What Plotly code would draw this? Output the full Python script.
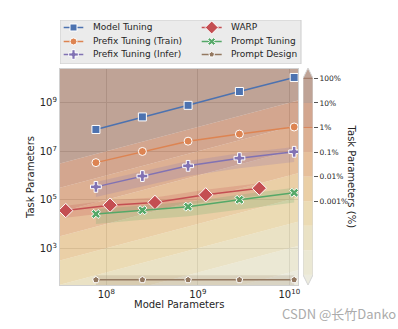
import plotly.graph_objects as go

# ---- data -------------------------------------------------------------
model_sizes = [7.7e7, 2.48e8, 7.83e8, 2.85e9, 1.13e10]
warp_sizes = [3.6e7, 1.1e8, 3.4e8, 1.22e9, 4.7e9]

model_tuning = [7.9e7, 2.6e8, 7.8e8, 2.9e9, 1.1e10]
prefix_train = [3.4e6, 9.8e6, 2.6e7, 5.1e7, 1.0e8]
prefix_infer = [3.4e5, 9.5e5, 2.5e6, 5.2e6, 9.5e6]
warp = [3.6e4, 6.0e4, 7.8e4, 1.6e5, 3.0e5]
prompt_tuning = [2.6e4, 3.7e4, 5.2e4, 1.0e5, 1.95e5]
prompt_design = [50, 50, 50, 50, 50]

# spread bands (low / high)
prefix_infer_lo = [1.3e5, 3.6e5, 9.5e5, 2.0e6, 3.6e6]
prefix_infer_hi = [5.4e5, 1.5e6, 4.0e6, 8.2e6, 1.5e7]
warp_lo = [1.8e4, 3.0e4, 3.9e4, 8.0e4, 1.5e5]
warp_hi = [5.7e4, 9.5e4, 1.25e5, 2.6e5, 4.8e5]
prompt_tuning_lo = [1.0e4, 1.5e4, 2.1e4, 4.0e4, 7.8e4]
prompt_tuning_hi = [4.1e4, 5.9e4, 8.3e4, 1.6e5, 3.1e5]
prompt_design_lo = [20, 20, 20, 20, 20]
prompt_design_hi = [78, 78, 78, 78, 78]

# task-parameter fraction levels for the background bands
ratio_edges = [1e-14, 1e-8, 1e-7, 1e-6, 1e-5, 1e-4, 1e-3, 1e-2, 1e-1, 1e6]
band_colors = [
    (228, 226, 208), (226, 222, 194), (225, 214, 172), (226, 204, 148),
    (225, 187, 128), (219, 164, 112), (206, 142, 101), (192, 128, 95),
    (164, 124, 105),
]
BAND_ALPHA = 0.7

y_ticks = [1e3, 1e5, 1e7, 1e9]
y_ticktext = ["10<sup>3</sup>", "10<sup>5</sup>", "10<sup>7</sup>", "10<sup>9</sup>"]
x_ticks = [1e8, 1e9, 1e10]
x_ticktext = ["10<sup>8</sup>", "10<sup>9</sup>", "10<sup>10</sup>"]
cbar_ticks = [100, 10, 1, 0.1, 0.01, 0.001]
cbar_ticktext = ["100%", "10%", "1%", "0.1%", "0.01%", "0.001%"]

FONT = "DejaVu Sans"
TXT = "#262626"


def rgba(c, a):
    return f"rgba({c[0]},{c[1]},{c[2]},{a})"


fig = go.Figure()

# ---- background: constant-fraction bands ------------------------------
xa, xb = 1e7, 3e10
for i, col in enumerate(band_colors):
    lo, hi = ratio_edges[i], ratio_edges[i + 1]
    fig.add_trace(go.Scatter(
        x=[xa, xb, xb, xa, xa],
        y=[xa * lo, xb * lo, xb * hi, xa * hi, xa * lo],
        mode="lines", fill="toself", fillcolor=rgba(col, BAND_ALPHA),
        line=dict(width=0), hoverinfo="skip",
    ))


# ---- spread bands -----------------------------------------------------
def add_band(xs, lo, hi, color):
    fig.add_trace(go.Scatter(
        x=list(xs) + list(xs)[::-1], y=list(hi) + list(lo)[::-1],
        mode="lines", fill="toself", fillcolor=color,
        line=dict(width=0), hoverinfo="skip",
    ))


add_band(model_sizes, prefix_infer_lo, prefix_infer_hi, "rgba(129,114,179,0.2)")
add_band(warp_sizes, warp_lo, warp_hi, "rgba(196,78,82,0.2)")
add_band(model_sizes, prompt_tuning_lo, prompt_tuning_hi, "rgba(85,168,104,0.2)")
add_band(model_sizes, prompt_design_lo, prompt_design_hi, "rgba(147,120,96,0.2)")

# ---- method lines -----------------------------------------------------
series = [
    ("Model Tuning", model_sizes, model_tuning, "#4c72b0", "square", 8),
    ("Prefix Tuning (Train)", model_sizes, prefix_train, "#dd8452", "circle", 8),
    ("Prefix Tuning (Infer)", model_sizes, prefix_infer, "#8172b3", "cross", 9),
    ("WARP", warp_sizes, warp, "#c44e52", "diamond", 11),
    ("Prompt Tuning", model_sizes, prompt_tuning, "#55a868", "x", 8),
    ("Prompt Design", model_sizes, prompt_design, "#937860", "pentagon", 7),
]
for name, xs, ys, color, sym, size in series:
    fig.add_trace(go.Scatter(
        x=xs, y=ys, name=name, mode="lines+markers",
        line=dict(color=color, width=1.5),
        marker=dict(symbol=sym, size=size, color=color,
                    line=dict(color="white", width=1)),
    ))

# ---- colour bar (drawn on its own small axes) -------------------------
cb_edges = [r * 100 for r in ratio_edges]
cb_lo, cb_hi = 1e-6, 100.0
tip_top, tip_bot = 10 ** 2.42, 10 ** -6.41


def cb_poly(xs, ys, col):
    fig.add_trace(go.Scatter(x=xs, y=ys, xaxis="x2", yaxis="y2",
                             mode="lines", fill="toself",
                             fillcolor=rgba(col, BAND_ALPHA),
                             line=dict(width=0), hoverinfo="skip"))


for i, col in enumerate(band_colors):
    lo = max(cb_edges[i], cb_lo)
    hi = min(cb_edges[i + 1], cb_hi)
    if i == 0:
        cb_poly([0, 1, 0.5, 0], [cb_lo, cb_lo, tip_bot, cb_lo], col)
    elif i == len(band_colors) - 1:
        cb_poly([0, 1, 1, 0.5, 0, 0], [lo, lo, cb_hi, tip_top, cb_hi, lo], col)
    else:
        cb_poly([0, 1, 1, 0, 0], [lo, lo, hi, hi, lo], col)

# level lines on the colour bar
for lvl, col in [(100, "rgba(150,105,85,0.8)"), (1, "rgba(215,130,85,0.9)")]:
    fig.add_trace(go.Scatter(x=[0, 1], y=[lvl, lvl], xaxis="x2", yaxis="y2",
                             mode="lines", line=dict(color=col, width=1),
                             hoverinfo="skip"))

# colour bar outline
fig.add_trace(go.Scatter(
    x=[0, 0, 0.5, 1, 1, 0.5, 0],
    y=[cb_lo, cb_hi, tip_top, cb_hi, cb_lo, tip_bot, cb_lo],
    xaxis="x2", yaxis="y2", mode="lines",
    line=dict(color="#d4d4d4", width=1), hoverinfo="skip"))

# ---- legend box (own axes, 1 unit = 1 px) ------------------------------
legend_cols = [(3.7, 13.5, 23.3, 31.0), (141.7, 151.7, 161.7, 168.7)]
legend_rows = [36.5, 22.5, 9.5]
legend_slots = [(0, 0), (0, 1), (0, 2), (1, 0), (1, 1), (1, 2)]
for (name, _, _, color, sym, size), (c, r) in zip(series, legend_slots):
    x0, xm, x1, xt = legend_cols[c]
    yy = legend_rows[r]
    fig.add_trace(go.Scatter(x=[x0, x1], y=[yy, yy], xaxis="x3", yaxis="y3",
                             mode="lines", line=dict(color=color, width=1.5),
                             hoverinfo="skip"))
    fig.add_trace(go.Scatter(x=[xm], y=[yy], xaxis="x3", yaxis="y3",
                             mode="markers", hoverinfo="skip",
                             marker=dict(symbol=sym, size=size - 1, color=color,
                                         line=dict(color="white", width=1))))
    fig.add_annotation(text=name, x=xt, y=yy, xref="x3", yref="y3",
                       xanchor="left", yanchor="middle", showarrow=False,
                       font=dict(size=9, color=TXT))

fig.add_shape(type="rect", xref="x3", yref="y3", x0=0, x1=241, y0=0, y1=44,
              fillcolor="#ebebeb", line=dict(color="#cccccc", width=1),
              layer="below")

# ---- layout -----------------------------------------------------------
fig.update_layout(
    width=398, height=329,
    margin=dict(l=60, r=20, t=18, b=44),
    paper_bgcolor="white", plot_bgcolor="white",
    font=dict(family=FONT, size=10, color=TXT),
    showlegend=False,
    xaxis=dict(
        type="log", domain=[0, 0.7484], range=[7.494, 10.095],
        tickvals=x_ticks, ticktext=x_ticktext, ticks="",
        showgrid=True, gridcolor="#c4c4c4", gridwidth=1,
        showline=True, mirror=True, linecolor="#d0d0d0", linewidth=1.25,
        zeroline=False, tickfont=dict(size=10, color=TXT),
    ),
    yaxis=dict(
        type="log", domain=[0, 0.80899], range=[1.487, 10.39],
        tickvals=y_ticks, ticktext=y_ticktext, ticks="",
        showgrid=True, gridcolor="#c4c4c4", gridwidth=1,
        showline=True, mirror=True, linecolor="#d0d0d0", linewidth=1.25,
        zeroline=False, tickfont=dict(size=10, color=TXT),
    ),
    xaxis2=dict(domain=[0.7642, 0.7956], range=[0, 1], visible=False,
                anchor="y2", fixedrange=True),
    yaxis2=dict(
        domain=[0, 0.81273], type="log", range=[-6.41, 2.42], anchor="x2",
        side="right", tickvals=cbar_ticks, ticktext=cbar_ticktext,
        ticks="outside", ticklen=4, tickwidth=1, tickcolor="#555555",
        showgrid=False, zeroline=False, showline=False,
        tickfont=dict(size=7.5, color=TXT),
    ),
    xaxis3=dict(domain=[0, 0.7610], range=[0, 242], visible=False,
                anchor="y3", fixedrange=True),
    yaxis3=dict(domain=[0.82772, 0.99251], range=[0, 44], visible=False,
                anchor="x3", fixedrange=True),
)

fig.add_annotation(text="Task Parameters", x=-0.0912, y=0.4045,
                   xref="paper", yref="paper", textangle=-90,
                   xanchor="center", yanchor="middle",
                   showarrow=False, font=dict(size=10, color=TXT))
fig.add_annotation(text="Model Parameters", x=0.3742, y=-0.0749,
                   xref="paper", yref="paper", xanchor="center",
                   yanchor="middle", showarrow=False,
                   font=dict(size=10, color=TXT))
fig.add_annotation(text="Task Parameters (%)", x=0.918, y=0.4064,
                   xref="paper", yref="paper", textangle=90,
                   xanchor="center", yanchor="middle",
                   showarrow=False, font=dict(size=10, color=TXT))
fig.add_annotation(text="CSDN @长竹Danko", x=1.064, y=-0.1049,
                   xref="paper", yref="paper", xanchor="right",
                   yanchor="middle", showarrow=False,
                   font=dict(size=13, color="#ababab",
                             family="Noto Sans CJK SC"))

fig.write_html("out.html")
